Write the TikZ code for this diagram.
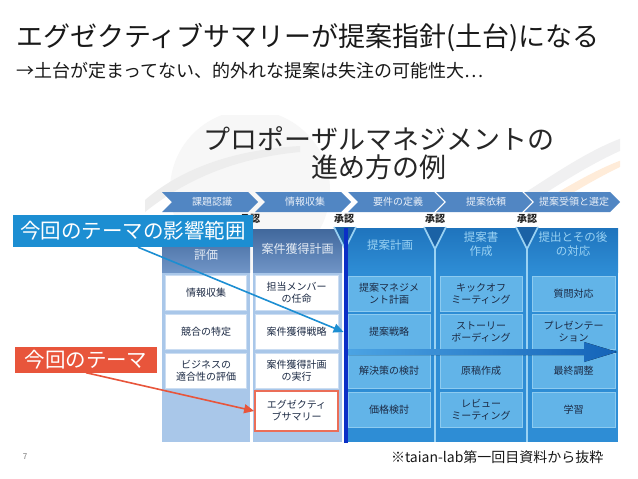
\documentclass[tikz,border=0pt]{standalone}
\usepackage{fontspec}
\setmainfont{Noto Sans CJK JP}
\usetikzlibrary{arrows.meta,positioning}

\definecolor{chevblue}{HTML}{5186C3}
\definecolor{hdrblue}{HTML}{4C7AB8}
\definecolor{colbg}{HTML}{A9C7E9}
\definecolor{blockblue}{HTML}{2E8DD5}
\definecolor{blockdark}{HTML}{1F74BD}
\definecolor{cellblue}{HTML}{62B4E8}
\definecolor{celledge}{HTML}{8DCBF0}
\definecolor{vlight}{HTML}{9AD2F3}
\definecolor{vdark}{HTML}{1B62A5}
\definecolor{darkline}{HTML}{0B2FC6}
\definecolor{tagblue}{HTML}{1C8ED2}
\definecolor{tagred}{HTML}{E8553B}
\definecolor{arrowL}{HTML}{4BA3E3}
\definecolor{arrowR}{HTML}{1463B8}
\definecolor{txtdark}{HTML}{1C2A44}

\tikzset{
  fs/.style 2 args={font=\fontsize{#1}{#2}\selectfont},
  chev/.style={fill=chevblue},
  chevtxt/.style={fs={10}{12}, text=white!88!chevblue},
  approve/.style={font=\bfseries\fontsize{10}{12}\selectfont, text=black!85},
  hdrtxt/.style={fs={12}{14}, text=white!85!hdrblue, align=center},
  blktxt/.style={fs={11.5}{14}, text=vlight, align=center},
  cellw/.style={fill=white, draw=colbg!60, line width=0.8pt, minimum width=81pt,
    minimum height=35pt, inner sep=1pt, align=center, fs={10}{12}, text=txtdark},
  cellb/.style={fill=cellblue, draw=celledge, line width=0.8pt, minimum width=82pt,
    minimum height=35pt, inner sep=1pt, align=center, fs={10}{12}, text=txtdark},
  tag/.style={text=white, fs={20.5}{24}, inner sep=0pt, minimum height=32pt},
  callout/.style={line width=1.6pt, -{Triangle[length=10pt,width=9pt]}}
}

\begin{document}
\begin{tikzpicture}[x=1pt,y=-1pt]
\useasboundingbox (0,0) rectangle (638,479);
\fill[white] (0,0) rectangle (638,479);

% slide title
\node[fs={27}{31}, anchor=west, inner sep=0pt, text=black!90] (title) at (16,38)
  {エグゼクティブサマリーが提案指針(土台)になる};
\node[fs={18}{21}, anchor=west, inner sep=0pt, text=black!90] (subtitle) at (16,71)
  {→土台が定まってない、的外れな提案は失注の可能性大…};

% background of the quoted figure
\begin{scope}
  \clip (145,115) rectangle (620,445);
  \fill[black!3] (250,190) circle (80);
  \fill[black!7] (145,200) .. controls (180,170) and (230,150) .. (300,146)
    -- (300,152) .. controls (235,158) and (185,180) .. (145,212) -- cycle;
  \fill[blue!12!black!6] (520,196) .. controls (560,170) and (590,150) .. (622,138)
    -- (622,150) .. controls (595,162) and (565,180) .. (535,200) -- cycle;
  \fill[orange!15] (545,200) .. controls (575,182) and (600,168) .. (622,160)
    -- (622,166) .. controls (603,175) and (580,188) .. (556,203) -- cycle;
\end{scope}

\node[fs={27}{31}, text=black!85] (ftitle1) at (379,139) {プロポーザルマネジメントの};
\node[fs={27}{31}, text=black!85] (ftitle2) at (379,167) {進め方の例};

% phase chevrons
\foreach \L/\lab in {162/課題認識, 255/情報収集, 348/要件の定義, 436/提案依頼, 524/提案受領と選定}{
  \fill[chev] (\L,192) -- (\L+86,192) -- (\L+96,202) -- (\L+86,212) -- (\L,212) -- (\L+10,202) -- cycle;
  \node[chevtxt] at (\L+50,202) {\lab};
}

% approvals
\foreach \x in {250,344,435,527}
  \node[approve] at (\x,219) {承認};

% left columns
\fill[colbg] (162,229) rectangle (250,442);
\fill[colbg] (253,229) rectangle (342,442);
\fill[top color=hdrblue!85!black, bottom color=hdrblue!80!white] (162,229) rectangle (250,272);
\fill[top color=hdrblue!85!black, bottom color=hdrblue!80!white] (253,229) rectangle (342,272);
\node[hdrtxt] (hyoka) at (206,255) {評価};
\node[hdrtxt] (kakutoku) at (297.5,249) {案件獲得計画};

% right block
\fill[blockblue] (348,228) rectangle (618,442);
\fill[top color=blockdark, bottom color=blockblue] (348,228) rectangle (618,272);
\foreach \x in {345,435,527}{
  \fill[vdark] (\x-11,227) -- (\x+11,227) -- (\x,249) -- cycle;
  \draw[vlight, line width=1.6pt] (\x-11,227) -- (\x,249) -- (\x+11,227);
  \draw[vlight, line width=2.2pt] (\x,249) -- (\x,442);
}
\node[blktxt] (keikaku) at (390,245) {提案計画};
\node[blktxt] (sakusei) at (481,244) {提案書\\作成};
\node[blktxt] (taio) at (573,244) {提出とその後\\の対応};

% cells
\node[cellw] (shushu) at (206,293) {情報収集};
\node[cellw] (kyogo) at (206,332) {競合の特定};
\node[cellw] (tekigo) at (206,371) {ビジネスの\\適合性の評価};
\node[cellw, minimum width=83pt] (tanto) at (296.5,293) {担当メンバー\\の任命};
\node[cellw, minimum width=83pt] (senryakuA) at (296.5,332) {案件獲得戦略};
\node[cellw, minimum width=83pt] (jikko) at (296.5,371) {案件獲得計画\\の実行};
\node[cellw, minimum width=83pt, minimum height=40pt, draw=tagred!85, line width=1.8pt]
  (exsum) at (296.5,411) {エグゼクティ\\ブサマリー};

\node[cellb] (pmplan) at (389,294) {提案マネジメ\\ント計画};
\node[cellb] (senryaku) at (389,332) {提案戦略};
\node[cellb] (kento) at (389,371) {解決策の検討};
\node[cellb] (kakaku) at (389,410) {価格検討};
\node[cellb] (kickoff) at (481,294) {キックオフ\\ミーティング};
\node[cellb] (story) at (481,332) {ストーリー\\ボーディング};
\node[cellb] (genko) at (481,371) {原稿作成};
\node[cellb] (review) at (481,410) {レビュー\\ミーティング};
\node[cellb, minimum width=83pt] (shitsumon) at (573.5,294) {質問対応};
\node[cellb, minimum width=83pt] (present) at (573.5,332) {プレゼンテー\\ション};
\node[cellb, minimum width=83pt] (chosei) at (573.5,371) {最終調整};
\node[cellb, minimum width=83pt] (gakushu) at (573.5,410) {学習};

% time arrow
\fill[left color=arrowL, right color=arrowR] (348,349) -- (584,349) -- (584,342)
  -- (617,352) -- (584,362) -- (584,355) -- (348,355) -- cycle;

% approval line
\fill[darkline] (343.5,228) rectangle (347.5,443);

% callouts
\node[tag, fill=tagblue, minimum width=240pt] (range) at (133,231) {今回のテーマの影響範囲};
\node[tag, fill=tagred, minimum width=142pt, minimum height=26pt] (theme) at (86,359.5) {今回のテーマ};
\draw[callout, tagblue] ([xshift=5pt]range.south) -- ([xshift=-4pt]senryaku.west);
\draw[callout, tagred] (theme.south) -- (exsum.west);

% footer
\node[fs={8}{10}, text=black!55] (page) at (25,457) {7};
\node[fs={14}{16}, anchor=east, text=black!90] (source) at (607,457) {※taian-lab第一回目資料から抜粋};
\end{tikzpicture}
\end{document}
